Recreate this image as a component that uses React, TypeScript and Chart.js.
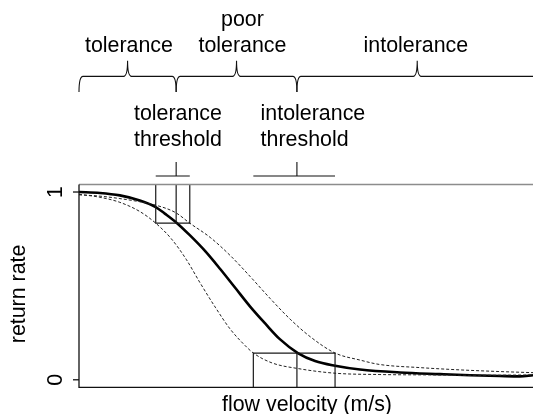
import React, { useEffect, useRef } from "react";
import { Chart, registerables } from "chart.js";
Chart.register(...registerables);

const FONT = '"Liberation Sans", Arial, Helvetica, sans-serif';
const FS = 21.4;

// flow velocity (arbitrary units, no ticks shown) and return rate
const fitX = [0, 4.6, 9.0, 13.4, 16.9, 18.9, 21.6, 24.4, 27.8, 31.1, 34.4, 37.7, 41.0, 44.3, 48.2, 52.0, 56.4, 61.9, 70.7, 79.5, 86.1, 92.7, 97.1, 100];
const fitY = [1.0, 0.995, 0.982, 0.955, 0.92, 0.885, 0.834, 0.77, 0.685, 0.59, 0.49, 0.39, 0.30, 0.215, 0.1425, 0.10, 0.075, 0.055, 0.039, 0.030, 0.024, 0.020, 0.018, 0.024];

const lowerX = [0, 4.6, 9.0, 13.4, 16.9, 20.3, 23.6, 26.7, 30.0, 33.3, 36.6, 38.4, 42.5, 48.2, 56.4, 66.1, 77.1, 88.1, 100];
const lowerY = [0.988, 0.972, 0.945, 0.896, 0.834, 0.752, 0.642, 0.515, 0.387, 0.27, 0.182, 0.1425, 0.09, 0.06, 0.035, 0.028, 0.026, 0.024, 0.026];

const upperX = [0, 4.6, 9.0, 13.4, 16.9, 21.3, 24.4, 28.9, 33.3, 37.7, 42.1, 46.5, 50.9, 56.4, 61.9, 66.1, 75.0, 83.7, 92.5, 100];
const upperY = [0.985, 0.978, 0.965, 0.948, 0.93, 0.89, 0.834, 0.758, 0.662, 0.55, 0.433, 0.323, 0.23, 0.1425, 0.105, 0.082, 0.065, 0.053, 0.044, 0.038];

// thresholds: [tolerance threshold, intolerance threshold]
const thresholdX = [21.4, 48.0];
const thresholdLow = [16.9, 38.4];
const thresholdHigh = [24.4, 56.4];
const thresholdY = [0.834, 0.1425];
const thresholdLabels = [["tolerance", "threshold"], ["intolerance", "threshold"]];
const thresholdLabelX = [12.1, 40.0];

// zones above the plot
const zoneEdges = [0, 21.4, 48.0, 101];
const zoneLabels = [["tolerance"], ["poor", "tolerance"], ["intolerance"]];
const zoneLabelX = [11.0, 36.0, 74.2];

const yTicks = [0, 1];
const yTickLabels = ["0", "1"];
const xTitle = "flow velocity (m/s)";
const yTitle = "return rate";

function toPts(xs: number[], ys: number[]) {
  return xs.map((x, i) => ({ x, y: ys[i] }));
}

const annotPlugin = {
  id: "annot",
  afterDatasetsDraw(chart: any) {
    const { ctx, chartArea: a, scales } = chart;
    const X = (v: number) => scales.x.getPixelForValue(v);
    const Y = (v: number) => scales.y.getPixelForValue(v);
    ctx.save();

    // threshold boxes
    ctx.strokeStyle = "#1a1a1a";
    ctx.lineWidth = 1.2;
    thresholdX.forEach((tx, i) => {
      const yT = thresholdY[i];
      const yEdge = i === 0 ? a.top : a.bottom;
      ctx.beginPath();
      ctx.moveTo(X(thresholdLow[i]), yEdge);
      ctx.lineTo(X(thresholdLow[i]), Y(yT));
      ctx.lineTo(X(thresholdHigh[i]), Y(yT));
      ctx.lineTo(X(thresholdHigh[i]), yEdge);
      ctx.moveTo(X(tx), yEdge);
      ctx.lineTo(X(tx), Y(yT));
      ctx.stroke();
    });

    // frame
    ctx.lineWidth = 1.5;
    ctx.strokeStyle = "#8c8c8c";
    ctx.beginPath();
    ctx.moveTo(a.left, a.top);
    ctx.lineTo(a.right, a.top);
    ctx.stroke();
    ctx.strokeStyle = "#111";
    ctx.lineWidth = 1.3;
    ctx.beginPath();
    ctx.moveTo(a.left, a.top);
    ctx.lineTo(a.left, a.bottom);
    ctx.lineTo(a.right, a.bottom);
    ctx.stroke();

    // y ticks
    ctx.fillStyle = "#000";
    ctx.font = `${FS}px ${FONT}`;
    yTicks.forEach((t, i) => {
      const py = Y(t);
      ctx.beginPath();
      ctx.moveTo(a.left - 6, py);
      ctx.lineTo(a.left, py);
      ctx.stroke();
      ctx.save();
      ctx.translate(a.left - 17, py);
      ctx.rotate(-Math.PI / 2);
      ctx.textAlign = "center";
      ctx.textBaseline = "alphabetic";
      ctx.fillText(yTickLabels[i], 0, 0);
      ctx.restore();
    });

    // axis titles
    ctx.textAlign = "center";
    ctx.textBaseline = "alphabetic";
    ctx.fillText(xTitle, (a.left + a.right) / 2 + 1, a.bottom + 23.5);
    ctx.save();
    ctx.translate(a.left - 54.5, (a.top + a.bottom) / 2 + 8);
    ctx.rotate(-Math.PI / 2);
    ctx.fillText(yTitle, 0, 0);
    ctx.restore();

    // threshold brackets
    ctx.lineWidth = 1.1;
    ctx.strokeStyle = "#111";
    thresholdX.forEach((tx, i) => {
      ctx.beginPath();
      ctx.moveTo(X(thresholdLow[i]), Y(1.0854));
      ctx.lineTo(X(thresholdHigh[i]), Y(1.0854));
      ctx.moveTo(X(tx), Y(1.0854));
      ctx.lineTo(X(tx), Y(1.16));
      ctx.stroke();
    });

    // threshold labels
    ctx.textAlign = "left";
    thresholdLabels.forEach((lines, i) => {
      ctx.fillText(lines[0], X(thresholdLabelX[i]), Y(1.383));
      ctx.fillText(lines[1], X(thresholdLabelX[i]), Y(1.2456));
    });

    // zone braces
    const yh = Y(1.616), ye = Y(1.532), yt = Y(1.699);
    for (let i = 0; i < zoneEdges.length - 1; i++) {
      const x0 = X(zoneEdges[i]);
      const x1 = X(zoneEdges[i + 1]);
      const tip = (x0 + x1) / 2;
      ctx.beginPath();
      ctx.moveTo(x0, ye);
      ctx.quadraticCurveTo(x0, yh, x0 + 4, yh);
      ctx.lineTo(tip - 4, yh);
      ctx.quadraticCurveTo(tip, yh, tip, yt);
      ctx.quadraticCurveTo(tip, yh, tip + 4, yh);
      ctx.lineTo(x1 - 4, yh);
      ctx.quadraticCurveTo(x1, yh, x1, ye);
      ctx.stroke();
    }

    // zone labels
    ctx.textAlign = "center";
    zoneLabels.forEach((lines, i) => {
      const n = lines.length;
      lines.forEach((ln, j) => {
        const yv = 1.746 + (n - 1 - j) * 0.137;
        ctx.fillText(ln, X(zoneLabelX[i]), Y(yv));
      });
    });

    ctx.restore();
  },
};

export default function App() {
  const ref = useRef<HTMLCanvasElement | null>(null);
  useEffect(() => {
    document.body.style.margin = "0";
    const chart = new Chart(ref.current as HTMLCanvasElement, {
      type: "line",
      data: {
        datasets: [
          {
            data: toPts(lowerX, lowerY),
            borderColor: "#222",
            borderWidth: 1,
            borderDash: [3, 2],
            pointRadius: 0,
            cubicInterpolationMode: "monotone",
          },
          {
            data: toPts(upperX, upperY),
            borderColor: "#222",
            borderWidth: 1,
            borderDash: [3, 2],
            pointRadius: 0,
            cubicInterpolationMode: "monotone",
          },
          {
            data: toPts(fitX, fitY),
            borderColor: "#000",
            borderWidth: 2.6,
            pointRadius: 0,
            cubicInterpolationMode: "monotone",
          },
        ],
      },
      options: {
        responsive: false,
        animation: false,
        devicePixelRatio: 1,
        parsing: true,
        layout: { padding: { left: 79, right: 0, top: 184.5, bottom: 26.7 } },
        plugins: { legend: { display: false }, tooltip: { enabled: false }, title: { display: false } },
        scales: {
          x: { type: "linear", min: 0, max: 100, display: false },
          y: { type: "linear", min: -0.04, max: 1.04, display: false },
        },
      },
      plugins: [annotPlugin],
    } as any);
    return () => chart.destroy();
  }, []);
  return (
    <div style={{ position: "absolute", left: 0, top: 0, width: 533, height: 414, background: "#fff" }}>
      <canvas ref={ref} width={533} height={414} />
    </div>
  );
}
